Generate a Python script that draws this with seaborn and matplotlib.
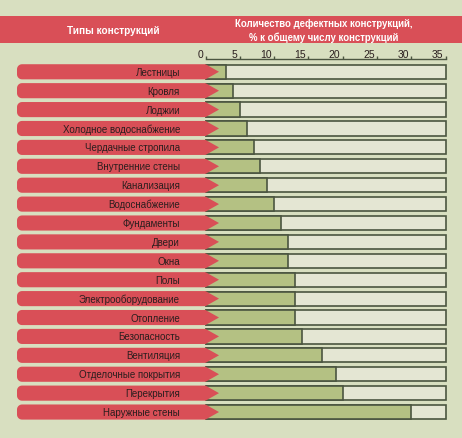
import matplotlib
matplotlib.use('Agg')

import matplotlib.pyplot as plt
import matplotlib.transforms as mtransforms
from matplotlib.patches import Polygon, Rectangle
import seaborn as sns
import numpy as np
import pandas as pd

# Data
categories = ['Лестницы', 'Кровля', 'Лоджии', 'Холодное водоснабжение',
              'Чердачные стропила', 'Внутренние стены', 'Канализация',
              'Водоснабжение', 'Фундаменты', 'Двери', 'Окна', 'Полы',
              'Электрооборудование', 'Отопление', 'Безопасность', 'Вентиляция',
              'Отделочные покрытия', 'Перекрытия', 'Наружные стены']
values = [3, 4, 5, 6, 7, 8, 9, 10, 11, 12, 12, 13, 13, 13, 14, 17, 19, 20, 30]
scale_max = 35
ticks = [0, 5, 10, 15, 20, 25, 30, 35]
header_left = 'Типы конструкций'
header_right = 'Количество дефектных конструкций,\n% к общему числу конструкций'

# Colours
BG = '#d8dfc0'
RED = '#d94f57'
LIGHT = '#e4e6d3'
GREEN = '#b4c183'
EDGE = '#4b5540'
TEXT = '#2a1e1e'

plt.rcParams['font.family'] = ['Liberation Sans', 'DejaVu Sans']

df = pd.DataFrame({'type': categories, 'value': values,
                   'total': [scale_max] * len(categories)})

W, H = 462, 439
fig = plt.figure(figsize=(W / 100, H / 100), dpi=100, facecolor=BG)

# header band
fig.patches.append(Rectangle((0, 1 - 44 / H), 1, 27 / H, transform=fig.transFigure,
                             facecolor=RED, edgecolor='none', zorder=0))
fig.text(113 / W, 1 - 31 / H, header_left, color='white', fontsize=7.2,
         fontweight='bold', ha='center', va='center')
fig.text(324 / W, 1 - 31 / H, header_right, color='white', fontsize=6.9,
         fontweight='bold', ha='center', va='center', linespacing=1.3)

ax_top = 59.5
ax = fig.add_axes([0, 0, 1, (H - ax_top) / H])
ax.set_facecolor(BG)

sns.barplot(data=df, x='total', y='type', orient='h', color=LIGHT, saturation=1,
            edgecolor=EDGE, linewidth=1.2, width=0.75, ax=ax, zorder=1)
sns.barplot(data=df, x='value', y='type', orient='h', color=GREEN, saturation=1,
            edgecolor=EDGE, linewidth=1.2, width=0.75, ax=ax, zorder=2)

# geometry: pixels per data unit
px_x = 240 / scale_max
zero_px = 205.5
ax.set_xlim(-zero_px / px_x, (W - zero_px) / px_x)
row_px = 18.93
ax.set_ylim(len(categories) - 1 + (H - 413) / row_px, -(72.8 - ax_top) / row_px)

# red arrow-shaped labels
left = (17 - zero_px) / px_x
tip = (219 - zero_px) / px_x
rx, ry = 5 / px_x, 5 / row_px
hh = 0.4
ang = np.linspace(0, np.pi / 2, 8)
for i, name in enumerate(categories):
    top, bot = i - hh, i + hh
    pts = [(0, top), (tip, i), (0, bot)]
    pts += [(left + rx - rx * np.sin(a), bot - ry + ry * np.cos(a)) for a in ang]
    pts += [(left + rx - rx * np.cos(a), top + ry - ry * np.sin(a)) for a in ang]
    ax.add_patch(Polygon(pts, closed=True, facecolor=RED, edgecolor='none', zorder=5))
    ax.text((180 - zero_px) / px_x, i, name, ha='right', va='center',
            fontsize=7, color=TEXT, zorder=6)

# axis on top
ax.xaxis.tick_top()
ax.set_xticks(ticks)
ax.set_xticklabels([str(t) for t in ticks], fontsize=7.5, color=TEXT)
ax.tick_params(axis='x', direction='out', length=2, width=1, color=EDGE, pad=-2.2)
offset = mtransforms.ScaledTranslation(-1.5 / 72, 0, fig.dpi_scale_trans)
for lab in ax.get_xticklabels():
    lab.set_ha('right')
    lab.set_transform(lab.get_transform() + offset)
ax.set_yticks([])
ax.set_xlabel('')
ax.set_ylabel('')
for side in ['left', 'right', 'bottom']:
    ax.spines[side].set_visible(False)
ax.spines['top'].set_bounds(0, scale_max)
ax.spines['top'].set_color(EDGE)
ax.spines['top'].set_linewidth(1)

fig.savefig('out.png', dpi=100, facecolor=BG)
